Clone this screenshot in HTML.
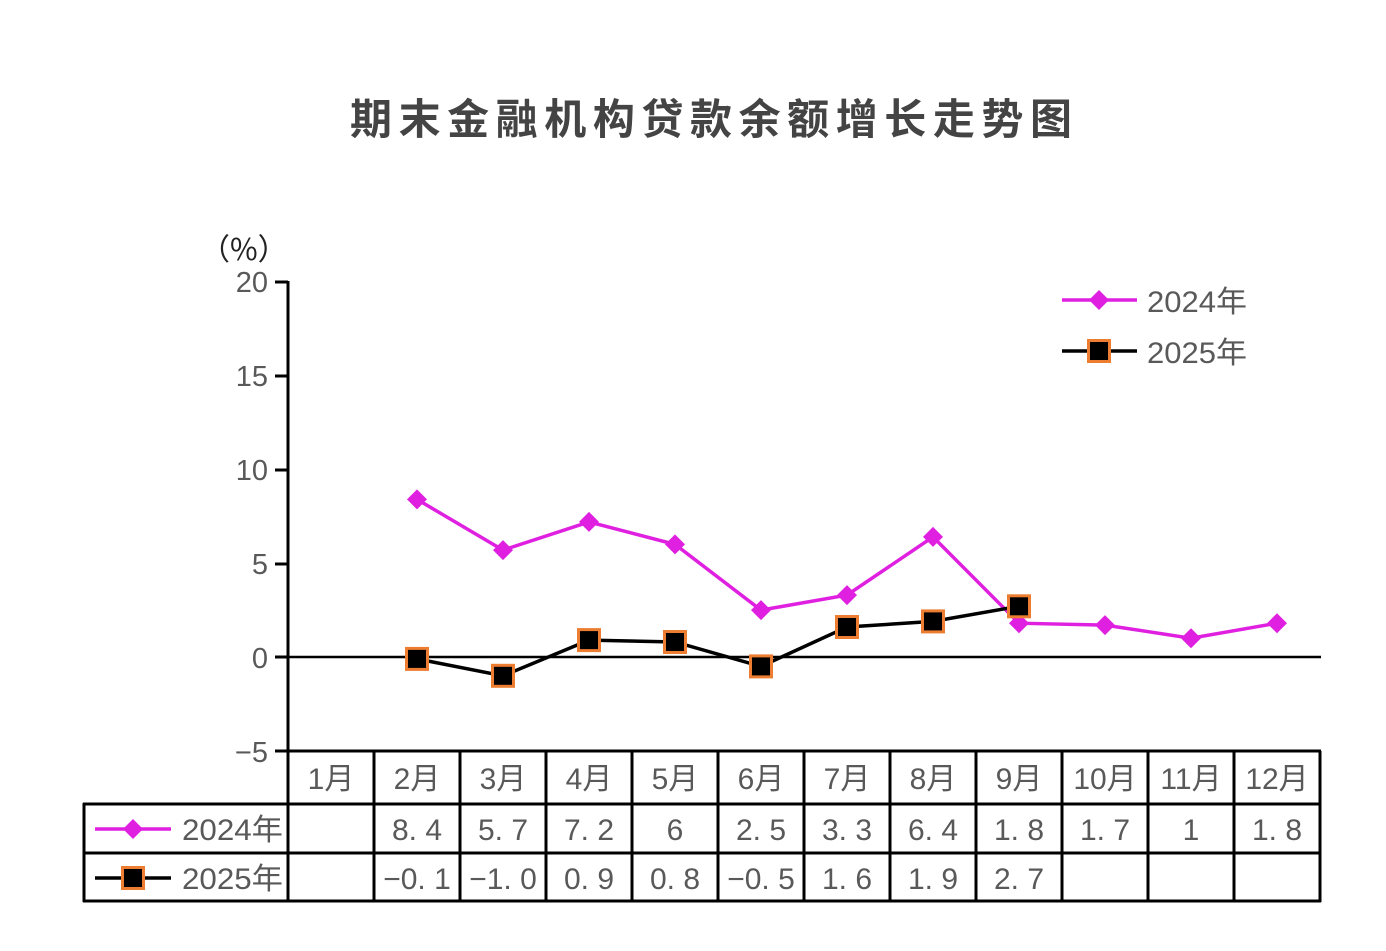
<!DOCTYPE html>
<html><head><meta charset="utf-8"><style>html,body{margin:0;padding:0;background:#fff;}</style></head>
<body>
<svg width="1386" height="946" xmlns="http://www.w3.org/2000/svg" font-family="'Liberation Sans','Noto Sans CJK SC',sans-serif">
<text x="350" y="134" font-size="42" font-weight="bold" fill="#444" textLength="722" lengthAdjust="spacing">期末金融机构贷款余额增长走势图</text>
<text x="200" y="260" font-size="30" fill="#222" font-family="'Noto Sans CJK SC',sans-serif">（%）</text>
<g font-size="29" fill="#595959" text-anchor="end">
<text x="268" y="292">20</text><text x="268" y="386">15</text><text x="268" y="480">10</text>
<text x="268" y="574">5</text><text x="268" y="668">0</text><text x="268" y="762">−5</text>
</g>
<g stroke="#000" stroke-width="3">
<line x1="288" y1="281" x2="288" y2="902"/>
<line x1="275" y1="282" x2="288" y2="282"/><line x1="275" y1="376" x2="288" y2="376"/>
<line x1="275" y1="470" x2="288" y2="470"/><line x1="275" y1="564" x2="288" y2="564"/>
<line x1="275" y1="657" x2="288" y2="657"/><line x1="275" y1="751" x2="288" y2="751"/>
<line x1="288" y1="657" x2="1321" y2="657" stroke-width="2.5"/>
<line x1="288" y1="751" x2="1321" y2="751"/>
<line x1="83" y1="804" x2="1321" y2="804"/>
<line x1="83" y1="853" x2="1321" y2="853"/>
<line x1="83" y1="901" x2="1321" y2="901"/>
<line x1="84" y1="803" x2="84" y2="902"/>
<line x1="374" y1="751" x2="374" y2="902"/><line x1="460" y1="751" x2="460" y2="902"/>
<line x1="546" y1="751" x2="546" y2="902"/><line x1="632" y1="751" x2="632" y2="902"/>
<line x1="718" y1="751" x2="718" y2="902"/><line x1="804" y1="751" x2="804" y2="902"/>
<line x1="890" y1="751" x2="890" y2="902"/><line x1="976" y1="751" x2="976" y2="902"/>
<line x1="1062" y1="751" x2="1062" y2="902"/><line x1="1148" y1="751" x2="1148" y2="902"/>
<line x1="1234" y1="751" x2="1234" y2="902"/><line x1="1320" y1="751" x2="1320" y2="902"/>
</g>
<g font-size="30" fill="#595959" text-anchor="middle">
<text x="331" y="789">1月</text><text x="417" y="789">2月</text><text x="503" y="789">3月</text>
<text x="589" y="789">4月</text><text x="675" y="789">5月</text><text x="761" y="789">6月</text>
<text x="847" y="789">7月</text><text x="933" y="789">8月</text><text x="1019" y="789">9月</text>
<text x="1105" y="789">10月</text><text x="1191" y="789">11月</text><text x="1277" y="789">12月</text>
<text x="417" y="840">8. 4</text><text x="503" y="840">5. 7</text><text x="589" y="840">7. 2</text>
<text x="675" y="840">6</text><text x="761" y="840">2. 5</text><text x="847" y="840">3. 3</text>
<text x="933" y="840">6. 4</text><text x="1019" y="840">1. 8</text><text x="1105" y="840">1. 7</text>
<text x="1191" y="840">1</text><text x="1277" y="840">1. 8</text>
<text x="417" y="889">−0. 1</text><text x="503" y="889">−1. 0</text><text x="589" y="889">0. 9</text>
<text x="675" y="889">0. 8</text><text x="761" y="889">−0. 5</text><text x="847" y="889">1. 6</text>
<text x="933" y="889">1. 9</text><text x="1019" y="889">2. 7</text>
</g>
<g font-size="30" fill="#595959">
<text x="182" y="840" textLength="101" lengthAdjust="spacingAndGlyphs">2024年</text><text x="182" y="889" textLength="101" lengthAdjust="spacingAndGlyphs">2025年</text>
<text x="1147" y="312" textLength="100" lengthAdjust="spacingAndGlyphs">2024年</text><text x="1147" y="363" textLength="100" lengthAdjust="spacingAndGlyphs">2025年</text>
</g>
<defs>
<path id="d" d="M0,-10 L10,0 L0,10 L-10,0 Z" fill="#E020E0"/>
<rect id="s" x="-10.5" y="-10.5" width="21" height="21" fill="#000" stroke="#ED7D31" stroke-width="3"/>
</defs>
<line x1="95" y1="829" x2="171" y2="829" stroke="#E020E0" stroke-width="3.5"/><use href="#d" x="133" y="829"/>
<line x1="95" y1="878" x2="171" y2="878" stroke="#000" stroke-width="3.5"/><use href="#s" x="133" y="878"/>
<line x1="1062" y1="300" x2="1137" y2="300" stroke="#E020E0" stroke-width="3.5"/><use href="#d" x="1099" y="300"/>
<line x1="1062" y1="351" x2="1137" y2="351" stroke="#000" stroke-width="3.5"/><use href="#s" x="1099" y="351"/>
<polyline fill="none" stroke="#E020E0" stroke-width="3.5" points="417,499.4 503,550.1 589,521.9 675,544.4 761,610.1 847,595.1 933,536.9 1019,623.2 1105,625.1 1191,638.2 1277,623.2"/>
<use href="#d" x="417" y="499.4"/><use href="#d" x="503" y="550.1"/><use href="#d" x="589" y="521.9"/>
<use href="#d" x="675" y="544.4"/><use href="#d" x="761" y="610.1"/><use href="#d" x="847" y="595.1"/>
<use href="#d" x="933" y="536.9"/><use href="#d" x="1019" y="623.2"/><use href="#d" x="1105" y="625.1"/>
<use href="#d" x="1191" y="638.2"/><use href="#d" x="1277" y="623.2"/>
<polyline fill="none" stroke="#000" stroke-width="3.5" points="417,658.9 503,675.8 589,640.1 675,642 761,666.4 847,627 933,621.4 1019,606.3"/>
<use href="#s" x="417" y="658.9"/><use href="#s" x="503" y="675.8"/><use href="#s" x="589" y="640.1"/>
<use href="#s" x="675" y="642"/><use href="#s" x="761" y="666.4"/><use href="#s" x="847" y="627"/>
<use href="#s" x="933" y="621.4"/><use href="#s" x="1019" y="606.3"/>
</svg>
</body></html>
